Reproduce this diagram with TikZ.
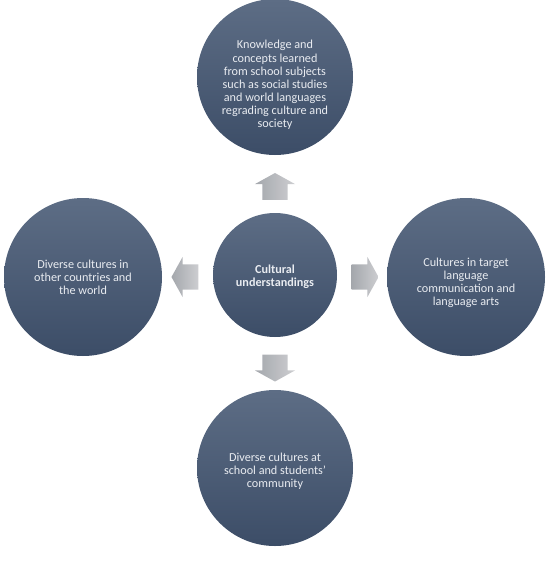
\documentclass[tikz,border=0pt]{standalone}
\usepackage{fontspec}
\setmainfont{Carlito}
\usepackage{xcolor}
\usetikzlibrary{shapes.arrows}
\definecolor{discTop}{HTML}{5D6D85}
\definecolor{discBot}{HTML}{3C4D67}
\definecolor{discText}{HTML}{E9ECF1}
\definecolor{arrTop}{HTML}{CDCED1}
\definecolor{arrBot}{HTML}{A4A7AC}

\begin{document}
\begin{tikzpicture}[x=1pt,y=-1pt,
    disc/.style={circle,top color=discTop,bottom color=discBot,
                 draw=none,inner sep=0pt},
    disctext/.style={align=center,text=discText,inner sep=0pt,
                 font=\fontsize{12.2}{13.1}\selectfont},
    blockarrow/.style={single arrow,left color=arrBot,right color=arrTop,
                 draw=none,minimum width=40pt,minimum height=27pt,
                 single arrow head extend=7.5pt,single arrow head indent=0pt,
                 single arrow tip angle=122,
                 inner xsep=0pt,inner ysep=12.5pt}
  ]
    \useasboundingbox (0,0) rectangle (552,578);
    % centre disc and the four around it
    \node[disc,minimum size=124pt] (core) at (275,275) {};
    \node[disc,minimum size=156pt] (subj) at (275,77) {};
    \node[disc,minimum size=158pt] (lang) at (466,277) {};
    \node[disc,minimum size=156pt] (school) at (275,468) {};
    \node[disc,minimum size=158pt] (world) at (83,277) {};
    % texts, sitting a little low in their discs
    \node[disctext] (coreText) at (275,277) {
      \textbf{Cultural}\\
      \textbf{understandings}
    };
    \node[disctext] (subjText) at (275,85) {
      Knowledge and\\
      concepts learned\\
      from school subjects\\
      such as social studies\\
      and world languages\\
      regrading culture and\\
      society
    };
    \node[disctext] (langText) at (466,283) {
      Cultures in target\\
      language\\
      communication and\\
      language arts
    };
    \node[disctext] (schoolText) at (275,471) {
      Diverse cultures at\\
      school and students’\\
      community
    };
    \node[disctext] (worldText) at (83,277) {
      Diverse cultures in\\
      other countries and\\
      the world
    };
    % block arrows pointing out from the centre
    \node[blockarrow,rotate=90] (toSubj) at (275,190) {};
    \node[blockarrow] (toLang) at (361.5,277) {};
    \node[blockarrow,rotate=-90] (toSchool) at (275,364.5) {};
    \node[blockarrow,rotate=180] (toWorld) at (188.5,277) {};
\end{tikzpicture}
\end{document}
